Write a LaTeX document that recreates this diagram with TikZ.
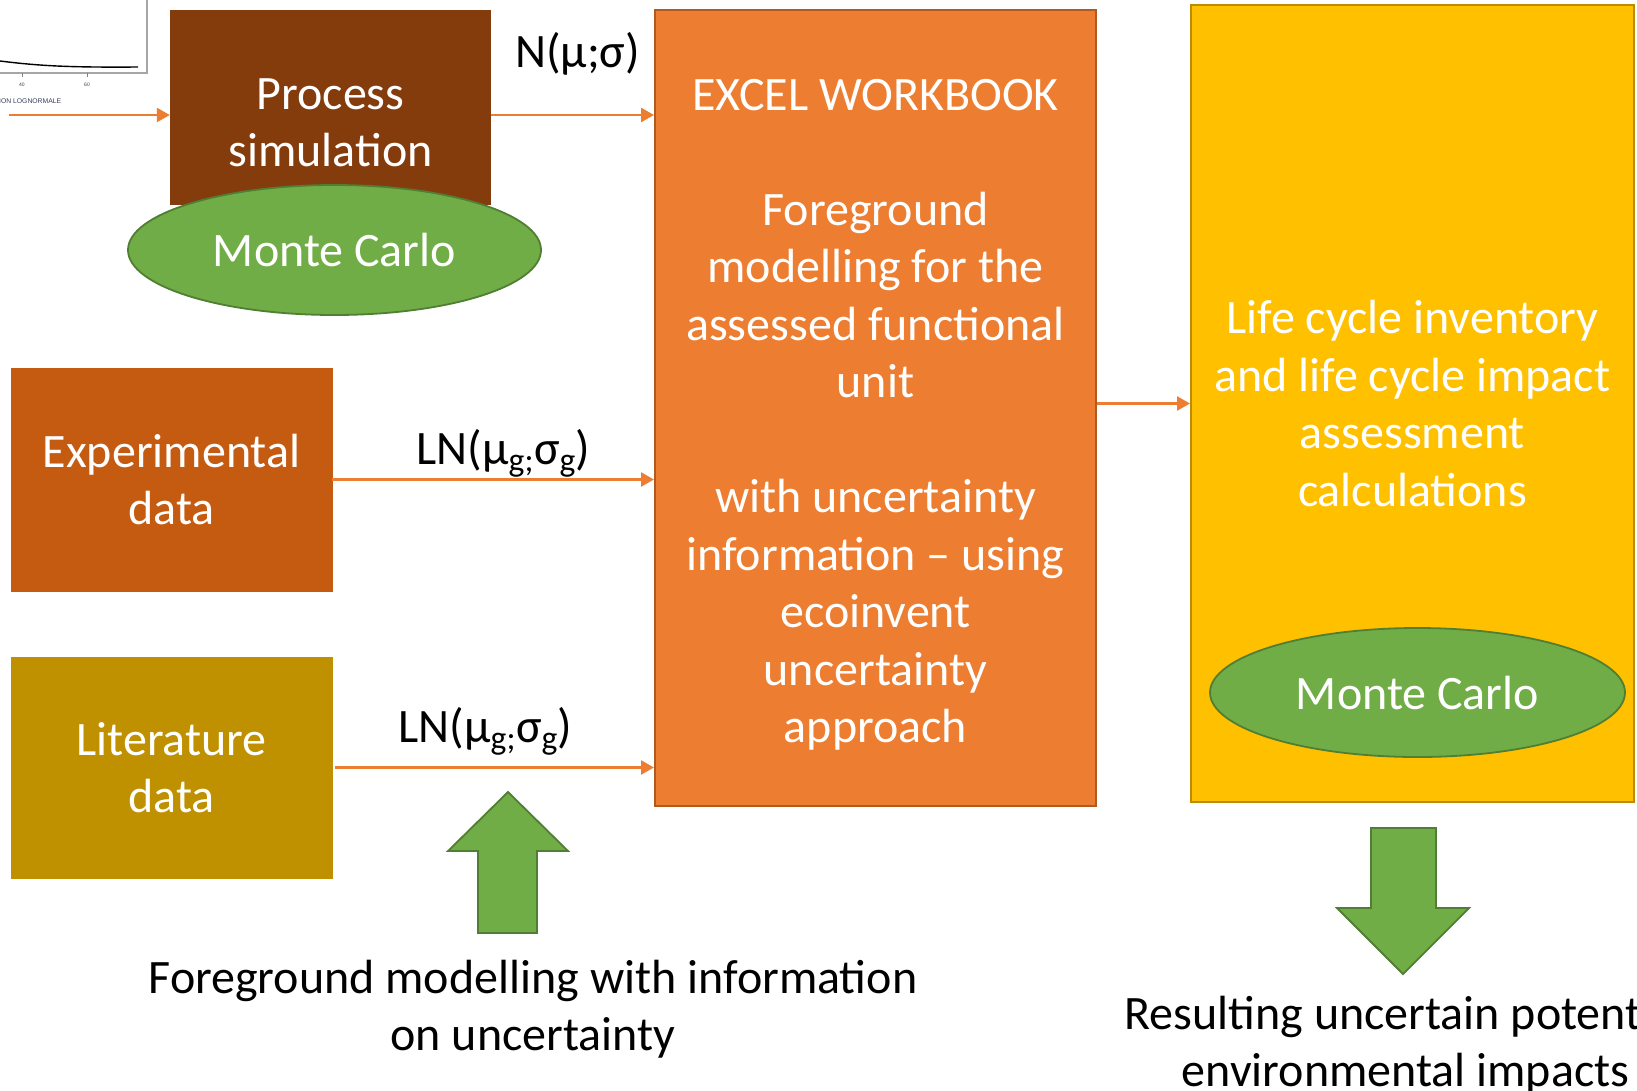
\documentclass[tikz,border=0pt]{standalone}
\usepackage{fontspec}
\setmainfont{Carlito}
\newfontfamily\chartfont{Liberation Sans}
\usetikzlibrary{arrows.meta,shapes.geometric}

\definecolor{brownbox}{HTML}{843C0C}
\definecolor{expbox}{HTML}{C55A11}
\definecolor{litbox}{HTML}{BF9000}
\definecolor{excelfill}{HTML}{ED7D31}
\definecolor{exceldraw}{HTML}{AE5A21}
\definecolor{yellowfill}{HTML}{FFC000}
\definecolor{yellowdraw}{HTML}{BC8C00}
\definecolor{mcfill}{HTML}{70AD47}
\definecolor{mcdraw}{HTML}{507E32}
\definecolor{arrowc}{HTML}{ED7D31}
\definecolor{chartgray}{HTML}{A6A6A6}
\definecolor{charttext}{HTML}{3A3F5C}

\newcommand\bigtext{\fontsize{48}{57.5}\selectfont}

\begin{document}
\begin{tikzpicture}[x=1pt,y=-1pt,
  box/.style={rectangle, inner sep=0pt, text=white, align=center, font=\bigtext},
  mc/.style={ellipse, fill=mcfill, draw=mcdraw, line width=1.8pt, inner sep=0pt, text=white, font=\bigtext},
  flow/.style={draw=arrowc, line width=2.5pt, -{Triangle[length=13pt,width=14pt]}},
  blockarrow/.style={fill=mcfill, draw=mcdraw, line width=1.8pt, line join=miter},
  lbl/.style={font=\bigtext, text=black, inner sep=0pt, anchor=base},
  plain/.style={font=\bigtext, text=black, inner sep=0pt, align=center},
]
\clip (0,0) rectangle (1637,1090);
\fill[white] (0,0) rectangle (1637,1090);

% partial chart (top left)
\draw[chartgray, line width=1.2pt] (-2,73) -- (147,73) -- (147,-2);
\draw[black, line width=1.4pt] (0,61) .. controls (40,66) and (70,67.5) .. (138,67);
\draw[gray, line width=0.8pt] (22,73) -- (22,77);
\draw[gray, line width=0.8pt] (87,73) -- (87,77);
\node[font=\chartfont\fontsize{5}{6}\selectfont, text=charttext, inner sep=0pt] (t40) at (22,85) {40};
\node[font=\chartfont\fontsize{5}{6}\selectfont, text=charttext, inner sep=0pt] (t60) at (87,85) {60};
\node[font=\chartfont\fontsize{6.8}{7}\selectfont, text=charttext, anchor=west, inner sep=0pt] (dist) at (-1,101) {ION LOGNORMALE};
\coordinate (src) at (9,115);

% boxes
\node[box, fill=brownbox, minimum width=321pt, minimum height=195pt] (process) at (330.5,107.5) {};
\node[box] (ptext) at (330.5,123) {Process\\simulation};
\node[mc, minimum width=413pt, minimum height=130pt] (mc1) at (334.5,250) {Monte Carlo};

\node[box, fill=expbox, draw=expbox, minimum width=321pt, minimum height=223pt] (exp) at (171.5,479.5) {Experimental\\data};
\node[box, fill=litbox, draw=litbox, minimum width=321pt, minimum height=221pt] (lit) at (171.5,767.5) {Literature\\data};

\node[box, fill=excelfill, draw=exceldraw, line width=2pt, minimum width=441pt, minimum height=796pt] (excel) at (875.5,408) {};
\node[box] (xtext) at (875.5,415)
  {EXCEL WORKBOOK\\[57.5pt]Foreground\\modelling for the\\assessed functional\\unit\\[57.5pt]with uncertainty\\information -- using\\ecoinvent\\uncertainty\\approach};

\node[box, fill=yellowfill, draw=yellowdraw, line width=2pt, minimum width=443pt, minimum height=797pt] (lci) at (1412.5,403.5)
  {Life cycle inventory\\and life cycle impact\\assessment\\calculations};
\node[mc, minimum width=415pt, minimum height=129pt] (mc2) at (1417.5,692.5) {Monte Carlo};

% connectors
\coordinate (pin) at ([yshift=-7.5pt]process.west);
\coordinate (pout) at ([yshift=-7.5pt]process.east);
\draw[flow] (src) -- (pin);
\draw[flow] (pout) -- (pout -| excel.west);
\draw[flow] (exp.east) -- (exp.east -| excel.west);
\draw[flow] ([xshift=3pt]lit.east) -- (lit.east -| excel.west);
\draw[flow] (lci.west -| excel.east) -- (lci.west);

% labels
\node[lbl] (n1) at (577.5,67) {N(μ;σ)};
\node[lbl] (ln1) at (503.5,464) {LN(μ\textsubscript{g;}σ\textsubscript{g})};
\node[lbl] (ln2) at (485.5,742) {LN(μ\textsubscript{g;}σ\textsubscript{g})};

% block arrows
\draw[blockarrow] (508,792) -- (568,851) -- (537,851) -- (537,933) -- (478,933) -- (478,851) -- (448,851) -- cycle;
\draw[blockarrow] (1371,828) -- (1436,828) -- (1436,908) -- (1469,908) -- (1403,974) -- (1337,908) -- (1371,908) -- cycle;

% bottom texts
\node[plain] (fg) at (533,1009) {Foreground modelling with information\\on uncertainty};
\node[plain] (res) at (1405.5,1045) {Resulting uncertain potential\\environmental impacts};
\end{tikzpicture}
\end{document}
